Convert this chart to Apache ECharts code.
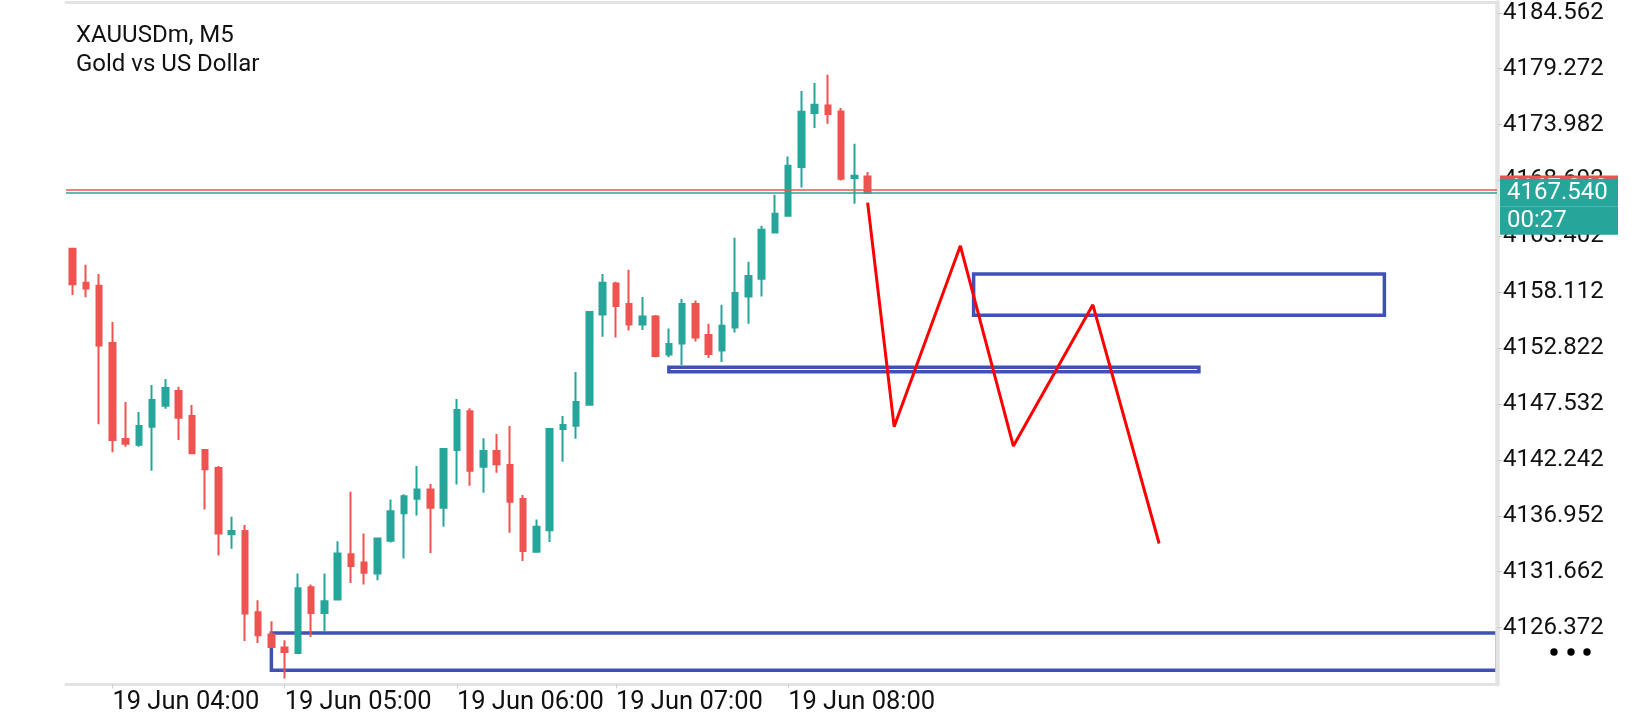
<!DOCTYPE html>
<html>
<head>
<meta charset="utf-8">
<script src="https://cdn.jsdelivr.net/npm/echarts@6/dist/echarts.min.js"></script>
<style>
html,body{margin:0;padding:0;background:#ffffff;}
#chart{width:1640px;height:720px;}
</style>
</head>
<body>
<div id="chart"></div>
<script>
// ---- data (XAUUSDm, M5) ----
const opens  = [4162.22,4159.00,4158.72,4153.31,4144.22,4143.68,4145.38,4147.37,4148.77,4146.40,
                4143.18,4141.47,4135.21,4135.50,4127.82,4125.71,4124.48,4123.96,4130.19,4127.76,
                4129.03,4133.32,4132.53,4131.49,4134.58,4137.18,4138.56,4139.45,4137.71,4143.18,
                4146.84,4141.59,4143.08,4141.75,4138.53,4133.54,4135.59,4145.16,4145.48,4147.47,
                4156.00,4158.93,4157.01,4155.05,4155.81,4152.21,4153.25,4157.01,4154.07,4152.59,
                4154.77,4157.70,4159.38,4163.77,4165.35,4169.97,4175.08,4175.78,4175.23,4168.92,
                4169.07];
const closes = [4158.88,4158.46,4153.06,4144.12,4143.77,4145.45,4147.91,4149.05,4146.24,4142.86,
                4141.35,4135.28,4135.50,4127.70,4125.64,4124.53,4124.06,4130.10,4127.76,4128.86,
                4133.38,4132.21,4131.55,4134.81,4137.39,4138.81,4139.45,4137.71,4143.27,4146.97,
                4141.21,4143.08,4141.82,4138.28,4133.63,4135.91,4145.16,4145.54,4147.72,4156.25,
                4159.00,4156.82,4155.05,4155.81,4152.08,4153.22,4157.01,4153.82,4152.27,4154.93,
                4158.05,4159.66,4164.03,4165.54,4170.09,4175.21,4175.87,4174.99,4168.86,4169.14,
                4167.54];
const lows   = [4157.86,4157.65,4145.61,4142.96,4143.49,4143.49,4141.21,4147.09,4144.12,4142.80,
                4137.55,4133.20,4133.82,4125.10,4124.91,4124.45,4121.54,4123.90,4125.48,4125.96,
                4129.00,4130.60,4130.45,4130.85,4134.43,4132.91,4136.99,4133.44,4135.91,4139.92,
                4139.79,4139.13,4141.02,4135.34,4132.68,4133.50,4134.48,4142.07,4144.25,4147.40,
                4153.91,4153.82,4154.48,4154.55,4151.96,4151.96,4151.23,4153.44,4151.89,4151.51,
                4154.29,4155.12,4157.70,4163.70,4165.29,4168.03,4173.66,4174.07,4168.70,4166.49,
                4167.54];
const highs  = [4162.30,4160.71,4159.85,4155.30,4147.72,4146.78,4149.33,4149.90,4149.17,4147.44,
                4143.27,4141.66,4136.85,4136.07,4128.96,4126.97,4125.17,4131.49,4130.45,4131.49,
                4134.55,4139.22,4135.28,4134.90,4138.50,4138.99,4141.66,4139.95,4143.30,4148.01,
                4147.13,4144.28,4144.69,4145.45,4138.91,4136.61,4145.20,4146.40,4150.57,4156.30,
                4159.85,4159.10,4160.23,4157.67,4155.97,4154.67,4157.48,4157.32,4155.12,4156.92,
                4163.27,4160.99,4164.40,4167.34,4170.97,4177.17,4177.93,4178.71,4175.56,4172.17,
                4169.49];

const slotCount = 108;                       // visible bar slots on the time axis
const timeLabels = ['19 Jun 04:00','19 Jun 05:00','19 Jun 06:00','19 Jun 07:00','19 Jun 08:00'];
const timeLabelSlots = [3, 16, 29, 41, 54];
const priceTicks = [4184.562,4179.272,4173.982,4168.692,4163.402,4158.112,
                    4152.822,4147.532,4142.242,4136.952,4131.662,4126.372];
const priceMin = 4121.0, priceMax = 4185.54;

const bidPrice = 4167.540;
const askPrice = 4167.840;
const countdown = '00:27';

// drawn zones (rectangles): start slot, end slot (null = open to the right), top, bottom
const zoneStart  = [15, 45, 68];
const zoneEnd    = [null, 85, 99];
const zoneTop    = [4125.86, 4151.02, 4159.83];
const zoneBottom = [4122.33, 4150.59, 4155.94];

// drawn projection zigzag
const zigzagSlots  = [60, 62, 67, 71, 77, 82];
const zigzagPrices = [4166.60, 4145.39, 4162.51, 4143.55, 4156.92, 4134.33];

// ---- build ----
const UP = '#26a69a', DOWN = '#ef5350', ZONE = '#3f51b5', FRAME = '#e3e3e3';
const FONT = 'Roboto';
const slots = [];
for (let i = 0; i < slotCount; i++) slots.push(String(i));
const candleData = opens.map((o, i) => [o, closes[i], lows[i], highs[i]]);
const labelAt = {};
timeLabelSlots.forEach((s, k) => { labelAt[s] = timeLabels[k]; });
const showAt = (idx) => labelAt[idx] !== undefined;

const zoneData = zoneStart.map((s, k) => {
  const a = { xAxis: s, yAxis: zoneTop[k] };
  const b = { yAxis: zoneBottom[k] };
  if (zoneEnd[k] !== null) b.xAxis = zoneEnd[k];
  return [a, b];
});

const boxText = { color: '#ffffff', fontSize: 24, fontFamily: FONT, width: 111, height: 28, lineHeight: 28, padding: [0, 0, 0, 7] };

const chart = echarts.init(document.getElementById('chart'), null, { renderer: 'canvas' });
chart.setOption({
  animation: false,
  backgroundColor: '#ffffff',
  textStyle: { fontFamily: FONT },
  title: {
    text: 'XAUUSDm, M5\nGold vs US Dollar',
    left: 71, top: 16,
    textStyle: { fontFamily: FONT, fontSize: 24, fontWeight: 'normal', color: '#111', lineHeight: 29 }
  },
  grid: { left: 66, right: 143, top: 2.5, bottom: 35.7, containLabel: false },
  xAxis: [{
    type: 'category',
    data: slots,
    boundaryGap: true,
    z: 4,
    axisLine: { show: true, lineStyle: { color: FRAME, width: 3 } },
    axisTick: { show: true, interval: showAt, alignWithLabel: true, length: 4, lineStyle: { color: '#cfcfcf', width: 1 } },
    axisLabel: { show: true, interval: showAt, formatter: (v, idx) => labelAt[idx] || '', align: 'left',
                 fontSize: 25.5, color: '#111', margin: 5, fontFamily: FONT },
    splitLine: { show: false }
  }, {
    type: 'category',
    data: slots,
    position: 'top',
    boundaryGap: true,
    z: 4,
    axisLine: { show: true, lineStyle: { color: FRAME, width: 3 } },
    axisTick: { show: false },
    axisLabel: { show: false },
    splitLine: { show: false }
  }],
  yAxis: {
    type: 'value',
    position: 'right',
    min: priceMin, max: priceMax,
    z: 4,
    axisLine: { show: true, lineStyle: { color: FRAME, width: 4.5 } },
    axisTick: { show: true, customValues: priceTicks, length: 5, lineStyle: { color: '#cfcfcf', width: 1 } },
    axisLabel: { show: true, customValues: priceTicks, formatter: (v) => Number(v).toFixed(3),
                 fontSize: 24, color: '#111', margin: 6, fontFamily: FONT },
    splitLine: { show: false }
  },
  series: [{
    type: 'candlestick',
    name: 'XAUUSDm',
    data: candleData,
    barWidth: 6,
    itemStyle: { color: UP, color0: DOWN, borderColor: UP, borderColor0: DOWN, borderWidth: 2 },
    z: 2
  }, {
    type: 'line',
    name: 'zones',
    data: [],
    z: 3,
    markArea: {
      silent: true,
      itemStyle: { color: 'rgba(0,0,0,0)', borderColor: ZONE, borderWidth: 3.5 },
      data: zoneData
    }
  }, {
    type: 'line',
    name: 'projection',
    data: zigzagSlots.map((s, k) => [s, zigzagPrices[k]]),
    symbol: 'none',
    z: 10,
    lineStyle: { color: '#ff0000', width: 3 }
  }, {
    type: 'line',
    name: 'levels',
    data: [],
    clip: false,
    z: 25,
    markLine: {
      silent: true,
      symbol: ['none', 'none'],
      animation: false,
      data: [{
        yAxis: askPrice,
        lineStyle: { color: DOWN, width: 1.5, type: 'solid' },
        label: { show: true, position: 'end', distance: 3,
                 formatter: '{r|' + askPrice.toFixed(3) + '}',
                 rich: { r: Object.assign({}, boxText, { backgroundColor: DOWN }) } }
      }, {
        yAxis: bidPrice,
        lineStyle: { color: UP, width: 1.5, type: 'solid' },
        label: { show: true, position: 'end', distance: 3,
                 formatter: '{s| }\n{a|' + bidPrice.toFixed(3) + '}\n{a|' + countdown + '}',
                 rich: { s: { height: 28, lineHeight: 28, fontSize: 24 },
                         a: Object.assign({}, boxText, { backgroundColor: UP }) } }
      }]
    }
  }],
  graphic: [
    { type: 'circle', shape: { cx: 1554, cy: 652, r: 3.7 }, style: { fill: '#000' } },
    { type: 'circle', shape: { cx: 1571, cy: 652, r: 3.7 }, style: { fill: '#000' } },
    { type: 'circle', shape: { cx: 1587, cy: 652, r: 3.7 }, style: { fill: '#000' } }
  ]
});
</script>
</body>
</html>
